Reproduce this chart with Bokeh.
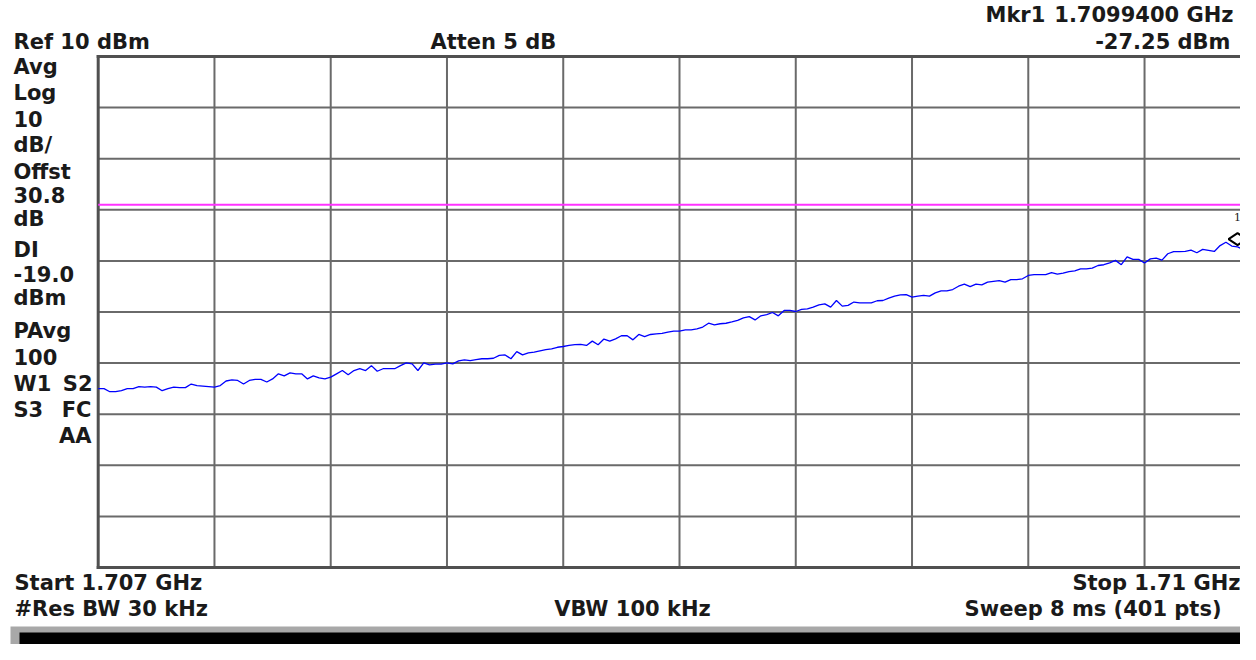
import math
import numpy as np
from bokeh.plotting import figure
from bokeh.models import Label, BoxAnnotation, Range1d
from bokeh.embed import file_html
from bokeh.resources import INLINE

# ---------------- data ----------------
f_start = 1.707          # GHz
f_stop = 1.710           # GHz
ref_level = 10.0         # dBm
db_per_div = 10.0
n_div = 10
display_line = -19.0     # dBm
mkr_freq = 1.70994       # GHz
mkr_val = -27.25         # dBm

# trace (every 2nd of the 401 sweep points), dBm
trace_dbm = [
    -55.0, -55.0, -55.6, -55.6, -55.4, -55.0, -55.0, -54.6, -54.7, -54.6,
    -54.7, -55.4, -55.0, -54.7, -54.8, -54.8, -54.1, -54.4, -54.5, -54.6,
    -54.7, -54.4, -53.5, -53.3, -53.4, -54.1, -53.4, -53.2, -53.2, -53.7,
    -53.1, -52.1, -52.5, -51.9, -52.1, -52.1, -53.1, -52.5, -52.9, -53.1,
    -52.75, -52.1, -51.45, -52.3, -51.45, -51.1, -51.45, -50.5, -51.6, -51.1,
    -51.1, -51.1, -50.5, -49.95, -50.15, -51.45, -49.95, -50.35, -50.2, -50.2,
    -49.95, -50.15, -49.55, -49.35, -49.5, -49.3, -49.15, -49.15, -49.05, -48.5,
    -48.4, -49.15, -47.75, -48.4, -48.0, -47.85, -47.6, -47.35, -47.2, -46.9,
    -46.75, -46.55, -46.4, -46.35, -46.55, -45.7, -46.4, -45.3, -45.7, -45.25,
    -44.65, -44.65, -45.45, -44.4, -44.8, -44.4, -44.3, -44.2, -43.95, -43.75,
    -43.75, -43.5, -43.5, -43.3, -42.95, -42.2, -42.5, -42.3, -42.2, -41.95,
    -41.65, -41.15, -40.9, -41.55, -40.75, -40.5, -40.1, -40.75, -39.7, -39.7,
    -39.9, -39.5, -39.4, -39.05, -38.6, -38.4, -39.05, -37.75, -38.85, -38.7,
    -38.05, -38.2, -38.2, -38.2, -37.8, -37.75, -37.3, -36.9, -36.65, -36.6,
    -37.1, -36.9, -36.75, -36.9, -36.25, -35.85, -35.85, -35.6, -34.95, -34.55,
    -35.05, -34.55, -34.7, -34.15, -34.0, -33.85, -34.15, -33.65, -33.65, -33.5,
    -32.85, -32.7, -32.7, -32.7, -32.3, -32.6, -32.4, -32.1, -31.95, -31.55,
    -31.55, -31.4, -30.9, -30.75, -30.4, -29.9, -30.75, -29.2, -29.7, -29.7,
    -30.4, -29.6, -29.45, -29.85, -28.6, -28.2, -28.2, -28.15, -27.9, -28.4,
    -27.75, -27.95, -28.15, -27.0, -26.35, -27.1, -27.25, -27.75, -26.7, -26.35,
    -26.6,
]
freqs = np.linspace(f_start, f_stop, len(trace_dbm))

# ---------------- layout ----------------
W, H = 1240, 644
GX0, GY0, GY1 = 97.7, 56.0, 567.0      # graticule left / top / bottom (px)
FULL_W = 1162.6                        # px width of the 10 divisions
y_bot = ref_level - db_per_div * n_div
gpp = (f_stop - f_start) / FULL_W      # GHz per px
dpp = (ref_level - y_bot) / (GY1 - GY0)  # dB per px

x_range = Range1d(f_start - GX0 * gpp, f_start + (W - GX0) * gpp)
y_range = Range1d(y_bot - (H - GY1) * dpp, ref_level + GY0 * dpp)

TXT = "#1a1a1a"
FONT = "DejaVu Sans"
TEXT_DY = 8   # renderer baseline correction (px)

p = figure(width=W, height=H, output_backend="svg", toolbar_location=None,
           x_range=x_range, y_range=y_range,
           x_axis_location=None, y_axis_location=None,
           min_border=0, outline_line_color=None,
           background_fill_color="white", border_fill_color="white")
p.xgrid.visible = False
p.ygrid.visible = False

# graticule (through the data scales)
step_f = (f_stop - f_start) / n_div
xt = [f_start + k * step_f for k in range(1, n_div)]
yt = [y_bot + k * db_per_div for k in range(1, n_div)]
p.segment(x0=xt, y0=[y_bot] * len(xt), x1=xt, y1=[ref_level] * len(xt),
          line_color="#6a6a6a", line_width=2)
p.segment(x0=[f_start] * len(yt), y0=yt, x1=[f_stop] * len(yt), y1=yt,
          line_color="#6a6a6a", line_width=2)
p.segment(x0=[f_start, f_start, f_start], y0=[y_bot, ref_level, y_bot],
          x1=[f_start, f_stop, f_stop], y1=[ref_level, ref_level, y_bot],
          line_color="#505050", line_width=3, line_cap="square")

# display line
p.segment(x0=[f_start], y0=[display_line], x1=[f_stop], y1=[display_line],
          line_color="#ff33ff", line_width=2)

# trace
p.line(freqs, trace_dbm, line_color="#0000ff", line_width=1.3)

# marker
p.scatter([mkr_freq], [mkr_val + 1.5], marker="diamond", angle=math.pi / 2,
          size=18, line_color="black", line_width=2, fill_color="white")
p.add_layout(Label(x=mkr_freq, y=mkr_val, y_offset=22 + TEXT_DY, text="1",
                   text_align="center", text_baseline="alphabetic",
                   text_font="DejaVu Serif", text_font_size="11px",
                   text_color=TXT))


# ---------------- annotation texts ----------------
def lab(text, px, py, align="left"):
    p.add_layout(Label(x=px, y=H - py + TEXT_DY, x_units="screen", y_units="screen",
                       text=text, text_align=align, text_baseline="alphabetic",
                       text_font=FONT, text_font_style="bold",
                       text_font_size="21px", text_color=TXT))


lab("Ref 10 dBm", 13, 49)
lab("Atten 5 dB", 430, 49)
lab("Mkr1", 985, 22)
lab("1.7099400 GHz", 1233, 22, "right")
lab("-27.25 dBm", 1230, 49, "right")

side = [("Avg", 74), ("Log", 100), ("10", 126), ("dB/", 152), ("Offst", 179),
        ("30.8", 202), ("dB", 226), ("DI", 257), ("-19.0", 281), ("dBm", 305),
        ("PAvg", 338), ("100", 364), ("W1", 391), ("S3", 417)]
for t, yb in side:
    lab(t, 13, yb)
lab("S2", 92, 391, "right")
lab("FC", 91, 417, "right")
lab("AA", 91, 443, "right")

lab("Start 1.707 GHz", 14, 590)
lab("Stop 1.71 GHz", 1240, 590, "right")
lab("#Res BW 30 kHz", 14, 616)
lab("VBW 100 kHz", 632, 616, "center")
lab("Sweep 8 ms (401 pts)", 1221, 616, "right")

# bottom status box
p.add_layout(BoxAnnotation(left=10, right=W, top=H - 626, bottom=0,
                           left_units="screen", right_units="screen",
                           top_units="screen", bottom_units="screen",
                           fill_color="#a8a8a8", fill_alpha=1.0, line_color=None))
p.add_layout(BoxAnnotation(left=19, right=W, top=H - 632, bottom=0,
                           left_units="screen", right_units="screen",
                           top_units="screen", bottom_units="screen",
                           fill_color="black", fill_alpha=1.0, line_color=None))

open("out.html", "w").write(file_html(p, INLINE))
